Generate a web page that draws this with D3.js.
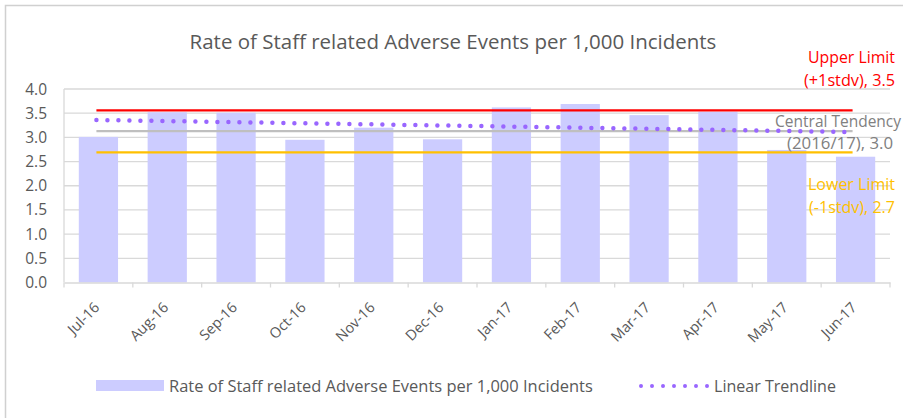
<!DOCTYPE html>
<html><head><meta charset="utf-8">
<script src="https://cdn.jsdelivr.net/npm/d3@7"></script>
<style>body{margin:0;background:#fff}svg{display:block;font-family:"Open Sans",Lato,sans-serif}</style>
</head><body><svg id="c" width="903" height="418"></svg>
<script>
const categories=["Jul-16","Aug-16","Sep-16","Oct-16","Nov-16","Dec-16","Jan-17","Feb-17","Mar-17","Apr-17","May-17","Jun-17"];
const rates=[3.01,3.52,3.51,2.95,3.20,2.96,3.62,3.69,3.46,3.53,2.74,2.60];
const upperLimit=3.56, centralTendency=3.13, lowerLimit=2.69;
const trendStart=3.36, trendEnd=3.11;
const yTicks=[0,0.5,1,1.5,2,2.5,3,3.5,4];
const titleText="Rate of Staff related Adverse Events per 1,000 Incidents";
const seriesName="Rate of Staff related Adverse Events per 1,000 Incidents";
const trendName="Linear Trendline";

const svg=d3.select("#c");
svg.append("rect").attr("x",5.5).attr("y",5.5).attr("width",1000).attr("height",1000).attr("fill","none").attr("stroke","#d0d0d0").attr("stroke-width",1.5);
const x=d3.scaleBand().domain(categories).range([64,890]).paddingInner(0.43).paddingOuter(0.215);
const xb=d3.scaleBand().domain(categories).range([64,890]);
const y=d3.scaleLinear().domain([0,4]).range([282.5,89]);
const grey="#595959";
const fitText=(sel,w)=>{const n=sel.node();const cur=n.getComputedTextLength();const fs=parseFloat(sel.attr("font-size"));sel.attr("font-size",fs*w/cur);return sel;};
fitText(svg.append("text").attr("x",453).attr("y",49).attr("text-anchor","middle").attr("font-size",19).attr("fill",grey).text(titleText),527);
// grid
svg.append("g").selectAll("line").data(yTicks.slice(1)).join("line")
 .attr("x1",64).attr("x2",890).attr("y1",d=>y(d)).attr("y2",d=>y(d)).attr("stroke","#d9d9d9").attr("stroke-width",1.3);
// y axis
svg.append("line").attr("x1",64).attr("x2",64).attr("y1",y(4)).attr("y2",y(0)).attr("stroke","#d9d9d9").attr("stroke-width",1.3);
svg.append("g").selectAll("text").data(yTicks).join("text").attr("x",47).attr("y",d=>y(d)+5.5).attr("text-anchor","end").attr("font-size",15.5).attr("fill",grey).text(d=>d.toFixed(1));
// bars
svg.append("g").selectAll("rect").data(rates).join("rect").attr("x",(d,i)=>x(categories[i])).attr("width",x.bandwidth()).attr("y",d=>y(d)).attr("height",d=>y(0)-y(d)).attr("fill","#ccccff");
// x axis
const xa=svg.append("g").attr("transform",`translate(0,${y(0)})`).call(d3.axisBottom(xb).tickSize(0).tickFormat(""));
xa.select(".domain").attr("stroke","#d9d9d9").attr("stroke-width",1.3);
svg.append("g").selectAll("line").data(d3.range(categories.length+1)).join("line").attr("x1",i=>64+i*xb.bandwidth()).attr("x2",i=>64+i*xb.bandwidth()).attr("y1",y(0)).attr("y2",y(0)+5).attr("stroke","#d9d9d9").attr("stroke-width",1.3);
svg.append("g").selectAll("text").data(categories).join("text")
 .attr("transform",d=>`translate(${xb(d)+xb.bandwidth()/2+2},${y(0)+26}) rotate(-45)`).attr("text-anchor","end").attr("font-size",14.5).attr("fill",grey).text(d=>d);
// ref lines
const cx=d=>xb(d)+xb.bandwidth()/2;
const x1=cx(categories[0])-2, x2=cx(categories[categories.length-1])-3;
[[upperLimit,"#ff0000"],[centralTendency,"#bfbfbf"],[lowerLimit,"#ffc000"]].forEach(([v,c])=>{
 svg.append("line").attr("x1",x1).attr("x2",x2).attr("y1",y(v)).attr("y2",y(v)).attr("stroke",c).attr("stroke-width",2.2);
});
// trendline
svg.append("line").attr("x1",x1).attr("x2",x2).attr("y1",y(trendStart)).attr("y2",y(trendEnd)).attr("stroke","#9966ff").attr("stroke-width",4.5).attr("stroke-linecap","round").attr("stroke-dasharray","0 11");
// labels
const lab=(t,xx,yy,c,anchor,w)=>{const s=svg.append("text").attr("x",xx).attr("y",yy).attr("text-anchor",anchor||"end").attr("font-size",15.5).attr("fill",c).text(t);if(w)fitText(s,w);return s;};
lab("Upper Limit",895,63,"#ff0000","end",87);
lab("(+1stdv), 3.5",895,86,"#ff0000","end",91);
lab("Central Tendency",901,127,"#808080","end",126);
lab("(2016/17), 3.0",893,149,"#808080","end",106);
lab("Lower Limit",895,190,"#ffc000","end",87);
lab("(-1stdv), 2.7",895,213,"#ffc000","end",86);
// legend
svg.append("rect").attr("x",96).attr("y",380).attr("width",68).attr("height",11).attr("fill","#ccccff");
fitText(svg.append("text").attr("x",169).attr("y",392).attr("font-size",15).attr("fill",grey).text(seriesName),424);
svg.append("line").attr("x1",641).attr("x2",708).attr("y1",386).attr("y2",386).attr("stroke","#9966ff").attr("stroke-width",4).attr("stroke-linecap","round").attr("stroke-dasharray","0 11");
fitText(svg.append("text").attr("x",714).attr("y",392).attr("font-size",15).attr("fill",grey).text(trendName),122);
</script></body></html>
